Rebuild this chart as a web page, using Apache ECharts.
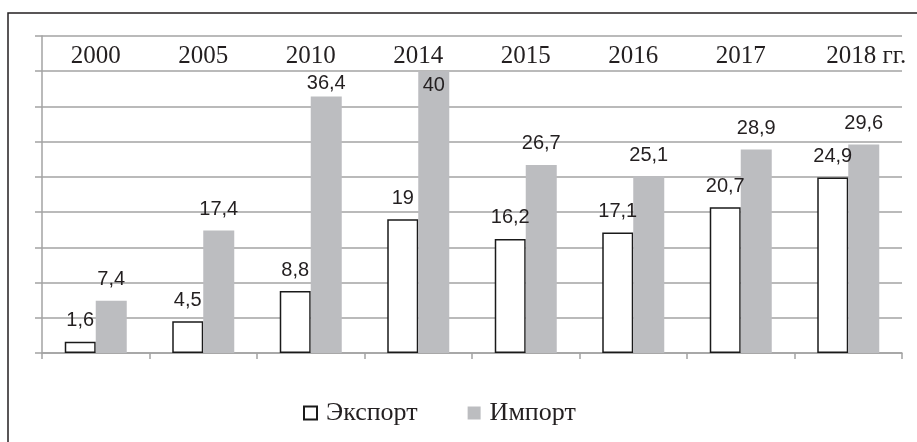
<!DOCTYPE html>
<html>
<head>
<meta charset="utf-8">
<script src="https://cdn.jsdelivr.net/npm/echarts@6/dist/echarts.min.js"></script>
<style>
html,body{margin:0;padding:0;background:#fff;}
#c{width:917px;height:442px;}
</style>
</head>
<body>
<div id="c"></div>
<script>
const categories = ["2000", "2005", "2010", "2014", "2015", "2016", "2017", "2018"];
const exportValues = [1.6, 4.5, 8.8, 19, 16.2, 17.1, 20.7, 24.9];
const importValues = [7.4, 17.4, 36.4, 40, 26.7, 25.1, 28.9, 29.6];
const seriesNames = ["Экспорт", "Импорт"];
const yearSuffix = " гг.";
const yMin = 0, yMax = 45, yStep = 5;

const TXT = '#231f20';
const GRID = '#a3a3a3';
const fmt = v => String(v).replace('.', ',');

const chart = echarts.init(document.getElementById('c'), null, {renderer: 'canvas'});

const importData = importValues.map((v, i) => {
  if (v === Math.max(...importValues)) {
    return {value: v, label: {position: 'insideTop', distance: 4}};
  }
  if (i === 2) {
    return {value: v, label: {distance: 3}};
  }
  return v;
});

const lastIdx = categories.length - 1;

chart.setOption({
  animation: false,
  backgroundColor: '#fff',
  graphic: [{
    type: 'rect',
    z: -1,
    shape: {x: 8, y: 13, width: 1200, height: 1200},
    style: {fill: 'none', stroke: TXT, lineWidth: 1.5}
  }],
  grid: {left: 42, right: 15, top: 36, bottom: 89, containLabel: false},
  legend: {
    left: 303,
    top: 400,
    padding: 0,
    itemWidth: 13,
    itemHeight: 13,
    itemGap: 50,
    icon: 'rect',
    textStyle: {fontFamily: 'Liberation Serif', fontSize: 26, color: TXT, padding: [0, 0, 0, 4]},
    data: seriesNames
  },
  xAxis: [{
    type: 'category',
    data: categories,
    position: 'bottom',
    axisLine: {show: true, lineStyle: {color: GRID, width: 1.5}},
    axisTick: {show: true, length: 6, alignWithLabel: false, lineStyle: {color: GRID, width: 1.5}},
    axisLabel: {show: false},
    splitLine: {show: false}
  }, {
    type: 'category',
    data: categories,
    position: 'top',
    axisLine: {show: false},
    axisTick: {show: false},
    axisLabel: {
      inside: true,
      interval: 0,
      margin: 8,
      fontFamily: 'Liberation Serif',
      fontSize: 25,
      color: TXT,
      formatter: (v, i) => i === lastIdx ? '{p|' + v + '}' + yearSuffix : v,
      rich: {
        p: {fontFamily: 'Liberation Serif', fontSize: 25, color: TXT, padding: [0, 0, 0, 36]}
      }
    }
  }],
  yAxis: {
    type: 'value',
    min: yMin,
    max: yMax,
    interval: yStep,
    axisLine: {show: true, lineStyle: {color: GRID, width: 1.5}},
    axisTick: {show: true, length: 7, lineStyle: {color: GRID, width: 1.5}},
    axisLabel: {show: false},
    splitLine: {show: true, lineStyle: {color: GRID, width: 1.5}}
  },
  series: [{
    name: seriesNames[0],
    type: 'bar',
    xAxisIndex: 0,
    data: exportValues,
    barWidth: 31,
    barGap: '0%',
    itemStyle: {color: '#ffffff', borderColor: '#1a1a1a', borderWidth: 1.5},
    label: {
      show: true, position: 'top', distance: 11,
      fontFamily: 'Liberation Sans', fontSize: 20, color: TXT,
      formatter: p => fmt(p.value)
    }
  }, {
    name: seriesNames[1],
    type: 'bar',
    xAxisIndex: 0,
    data: importData,
    barWidth: 31,
    barGap: '0%',
    itemStyle: {color: '#bcbdc0'},
    label: {
      show: true, position: 'top', distance: 11,
      fontFamily: 'Liberation Sans', fontSize: 20, color: TXT,
      formatter: p => fmt(p.value)
    }
  }]
});
</script>
</body>
</html>
